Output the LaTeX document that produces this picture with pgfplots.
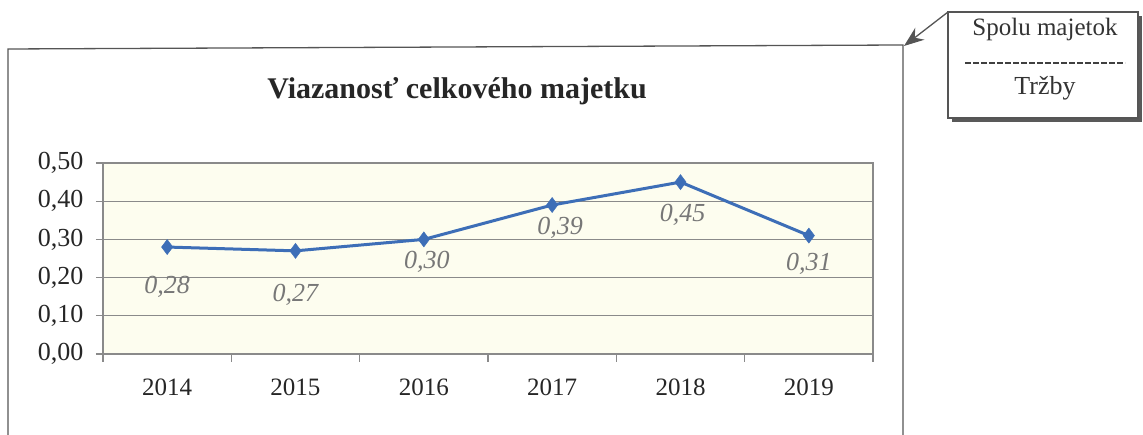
\documentclass[border=0pt]{standalone}
\usepackage{pgfplots}
\pgfplotsset{compat=1.18}
\usepackage{fontspec}
\setmainfont{Liberation Serif}
\usetikzlibrary{arrows.meta}
\definecolor{plotfill}{HTML}{FDFDEF}
\definecolor{linecol}{HTML}{3D6EB7}
\definecolor{labelgray}{HTML}{777777}
\definecolor{gridgray}{HTML}{8A8A8A}
\definecolor{framegray}{HTML}{555555}
\pgfplotstableread{
x y lbl dy dx
0 0.28 0,28 -40 0
1 0.27 0,27 -44 0
2 0.30 0,30 -22 3
3 0.39 0,39 -23 8
4 0.45 0,45 -33 2
5 0.31 0,31 -28 0
}\datatable
\begin{document}
\begin{tikzpicture}[x=1pt,y=1pt]
\begin{axis}[
  at={(0,0)}, anchor=south west,
  scale only axis, width=770pt, height=191pt,
  xmin=-0.5, xmax=5.5, ymin=0, ymax=0.5,
  axis background/.style={fill=plotfill},
  axis line style={gridgray, line width=1.3pt},
  xtick={0,1,2,3,4,5},
  xticklabels={2014,2015,2016,2017,2018,2019},
  major x tick style={draw=none},
  minor xtick={-0.5,0.5,1.5,2.5,3.5,4.5,5.5},
  minor x tick style={gridgray, line width=1.2pt},
  minor tick length=8pt,
  ytick={0,0.1,0.2,0.3,0.4,0.5},
  major y tick style={gridgray, line width=1.2pt},
  major tick length=7pt,
  tick align=outside,
  xtick pos=bottom, ytick pos=left,
  ymajorgrids, major grid style={gridgray, line width=1.3pt},
  /pgf/number format/.cd, fixed, fixed zerofill, precision=2, use comma, assume math mode=true,
  /pgfplots/.cd,
  yticklabel style={font=\fontsize{26}{26}\selectfont, text=black!85, xshift=-9pt},
  xticklabel style={font=\fontsize{25}{25}\selectfont, text=black!85, yshift=-14pt},
  clip=false,
]
\addplot[linecol, line width=3pt, mark=diamond*, mark size=7.5pt,
  mark options={fill=linecol, draw=linecol, line width=0.5pt},
  nodes near coords, point meta=explicit symbolic,
  visualization depends on={\thisrow{dy} \as \dy},
  visualization depends on={\thisrow{dx} \as \dx},
  nodes near coords style={anchor=center, yshift=\dy pt, xshift=\dx pt,
    font=\fontsize{26}{26}\selectfont\itshape, text=labelgray}]
  table[x=x, y=y, meta=lbl] {\datatable};
\end{axis}
\begin{scope}[shift={(-103,-81)}]
\useasboundingbox (0,0) rectangle (1143,435);
% outer chart frame
\draw[framegray, line width=1.3pt] (8,-5) -- (8,386) -- (903,390) -- (903,-5);
% title
\node[font=\fontsize{30}{32}\selectfont\bfseries, text=black!85] at (457,344) {Viazanosť celkového majetku};
% callout box
\fill[black!65] (952,313) rectangle (1142,419);
\draw[framegray, line width=1.3pt, fill=white] (948,317) rectangle (1138,423);
\node[font=\fontsize{25}{25}\selectfont, text=black!80] at (1045,406) {Spolu majetok};
\draw[black!75, line width=1.2pt, dash pattern=on 6pt off 2pt] (965,372) -- (1125,372);
\node[font=\fontsize{26}{26}\selectfont, text=black!80] at (1045,347) {Tržby};
\draw[framegray, line width=1.3pt, -{Stealth[length=20pt, width=15pt]}] (948,423) -- (904,389);
\end{scope}
\end{tikzpicture}
\end{document}
